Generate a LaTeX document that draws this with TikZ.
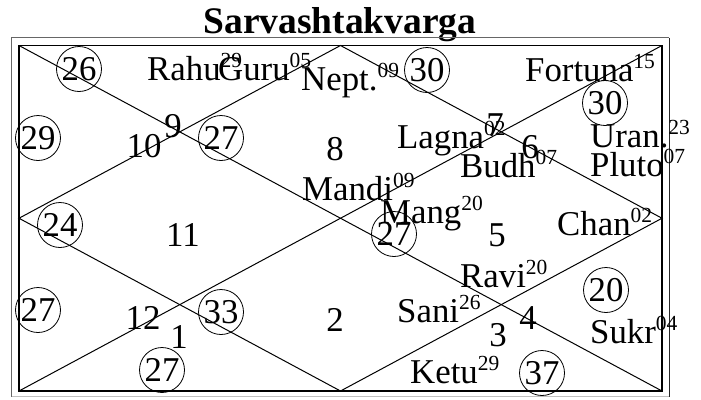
\documentclass[tikz,border=0pt]{standalone}
\usepackage{fontspec}
\setmainfont{Liberation Serif}
\newcommand\hsup[1]{\raisebox{12.5pt}{\fontsize{21.5}{21.5}\selectfont #1}}
\begin{document}
\begin{tikzpicture}[x=1pt,y=-1pt,
  lbl/.style={anchor=base west,inner sep=0,font=\fontsize{34.8}{34.8}\selectfont},
  num/.style={inner sep=0,font=\fontsize{34.8}{34.8}\selectfont},
  cnum/.style={circle,draw,minimum size=45pt,inner sep=0,font=\fontsize{34.8}{34.8}\selectfont,line width=0.8pt},
  chart/.style={line width=1.2pt}]
\useasboundingbox (0,0) rectangle (701,399);
% title
\node[anchor=base,inner sep=0,font=\fontsize{37.5}{37.5}\selectfont\bfseries] (title) at (340,33) {Sarvashtakvarga};
% outer frame
\coordinate (OTL) at (11.5,37.5);
\coordinate (OTR) at (669,37.5);
\coordinate (OBR) at (669,396.5);
\coordinate (OBL) at (11.5,396.5);
\draw[black!60,line width=1.2pt] (OBL) -- (OTL) -- (OTR);
\draw[black!85,line width=1pt] (OTR) -- (OBR);
\draw[black!25,line width=1.2pt] (OBL) -- (OBR);
% chart
\coordinate (TL) at (19,45.5);
\coordinate (TR) at (662,45.5);
\coordinate (BR) at (662,391);
\coordinate (BL) at (19,391);
\coordinate (MT) at (340.5,45.5);
\coordinate (MR) at (662,218.25);
\coordinate (MB) at (340.5,391);
\coordinate (ML) at (19,218.25);
\draw[chart] (TL) rectangle (BR);
\draw[line width=1pt] (TL) -- (BR);
\draw[line width=1pt] (BL) -- (TR);
\draw[line width=1pt] (MT) -- (MR) -- (MB) -- (ML) -- cycle;
% planets
\node[lbl] (rahu) at (147,80) {Rahu\hsup{29}};
\node[lbl] (guru) at (218,80) {Guru\hsup{05}};
\node[lbl] (nept) at (301,90) {Nept.\hsup{09}};
\node[lbl] (fort) at (525,81) {Fortuna\hsup{15}};
\node[lbl] (lagna) at (397,148) {Lagna\hsup{02}};
\node[lbl] (budh) at (460,177) {Budh\hsup{07}};
\node[lbl] (uran) at (590,147) {Uran.\hsup{23}};
\node[lbl] (pluto) at (590,176) {Pluto\hsup{07}};
\node[lbl] (mandi) at (302,200) {Mandi\hsup{09}};
\node[lbl] (mang) at (380,223) {Mang\hsup{20}};
\node[lbl] (chan) at (557,235) {Chan\hsup{02}};
\node[lbl] (ravi) at (460,287) {Ravi\hsup{20}};
\node[lbl] (sani) at (397,322) {Sani\hsup{26}};
\node[lbl] (sukr) at (590,343) {Sukr\hsup{04}};
\node[lbl] (ketu) at (410,383) {Ketu\hsup{29}};
% house numbers
\node[num] (h9) at (173,126) {9};
\node[num] (h10) at (144,146) {10};
\node[num] (h8) at (335,149) {8};
\node[num] (h7) at (495,125) {7};
\node[num] (h6) at (530,147) {6};
\node[num] (h11) at (183,235) {11};
\node[num] (h5) at (497,235) {5};
\node[num] (h12) at (143,318) {12};
\node[num] (h1) at (179,337) {1};
\node[num] (h2) at (335,320) {2};
\node[num] (h4) at (528,318) {4};
\node[num] (h3) at (498,335) {3};
% circled totals
\node[cnum] (c1) at (79,69) {26};
\node[cnum] (c2) at (38,138) {29};
\node[cnum] (c3) at (221,138) {27};
\node[cnum] (c4) at (427,70) {30};
\node[cnum] (c5) at (605,103) {30};
\node[cnum] (c6) at (60,225) {24};
\node[cnum] (c7) at (38,310) {27};
\node[cnum] (c8) at (221,312) {33};
\node[cnum] (c9) at (162,370) {27};
\node[cnum] (c10) at (394,234) {27};
\node[cnum] (c11) at (606,290) {20};
\node[cnum] (c12) at (542,373) {37};
\end{tikzpicture}
\end{document}
